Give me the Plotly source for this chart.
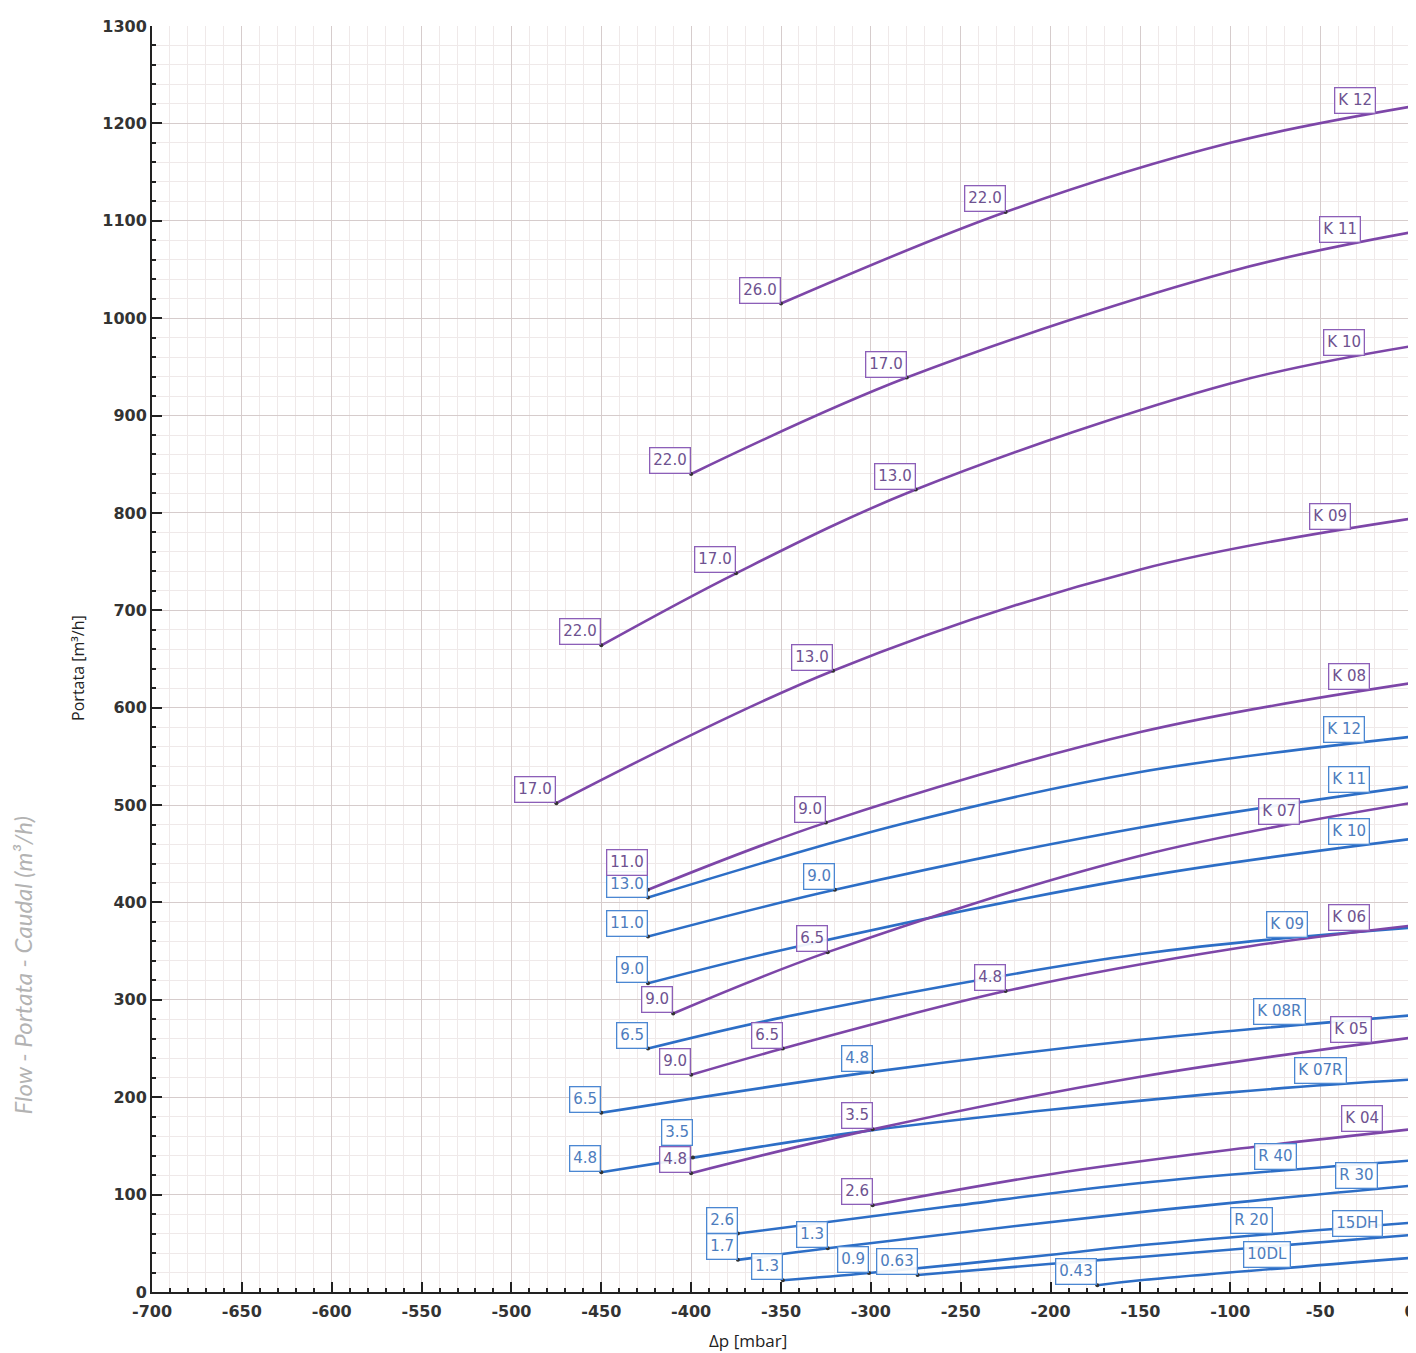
import numpy as np
import plotly.graph_objects as go

# ---------------- DATA ----------------
# Purple series: (Δp [mbar], flow [m3/h], power label)
K12P_DP = [-350, -225, -100, 0]
K12P_Q = [1015, 1109, 1180, 1217]
K12P_KW = ["26.0", "22.0", "", ""]

K11P_DP = [-400, -280, -100, 0]
K11P_Q = [840, 939, 1048, 1088]
K11P_KW = ["22.0", "17.0", "", ""]

K10P_DP = [-450, -375, -275, -100, 0]
K10P_Q = [664, 738, 824, 933, 971]
K10P_KW = ["22.0", "17.0", "13.0", "", ""]

K09P_DP = [-475, -321, -150, 0]
K09P_Q = [502, 638, 742, 794]
K09P_KW = ["17.0", "13.0", "", ""]

K08P_DP = [-424, -325, -150, 0]
K08P_Q = [413, 482, 575, 625]
K08P_KW = ["11.0", "9.0", "", ""]

K07P_DP = [-410, -324, -150, 0]
K07P_Q = [286, 349, 448, 502]
K07P_KW = ["9.0", "6.5", "", ""]

K06P_DP = [-400, -349, -225, -100, 0]
K06P_Q = [223, 250, 309, 352, 376]
K06P_KW = ["9.0", "6.5", "4.8", "", ""]

K05P_DP = [-400, -299, -150, 0]
K05P_Q = [122, 167, 221, 261]
K05P_KW = ["4.8", "3.5", "", ""]

K04P_DP = [-299, -200, -100, 0]
K04P_Q = [89, 121, 146, 167]
K04P_KW = ["2.6", "", "", ""]

# Blue series
K12B_DP = [-424, -284, -150, 0]
K12B_Q = [405, 480, 534, 570]
K12B_KW = ["13.0", "", "", ""]

K11B_DP = [-424, -320, -150, 0]
K11B_Q = [365, 413, 477, 519]
K11B_KW = ["11.0", "9.0", "", ""]

K10B_DP = [-424, -345, -150, 0]
K10B_Q = [317, 353, 426, 465]
K10B_KW = ["9.0", "", "", ""]

K09B_DP = [-424, -349, -150, 0]
K09B_Q = [250, 282, 347, 374]
K09B_KW = ["6.5", "", "", ""]

K08RB_DP = [-450, -299, -150, 0]
K08RB_Q = [184, 226, 259, 284]
K08RB_KW = ["6.5", "4.8", "", ""]

K07RB_DP = [-450, -399, -300, -100, 0]
K07RB_Q = [123, 138, 166, 205, 218]
K07RB_KW = ["4.8", "3.5", "", "", ""]

R40_DP = [-374, -256, -150, 0]
R40_Q = [60, 88, 112, 135]
R40_KW = ["2.6", "", "", ""]

R30_DP = [-374, -324, -150, 0]
R30_Q = [33, 45, 82, 109]
R30_KW = ["1.7", "1.3", "", ""]

R20_DP = [-349, -301, -201, -150, 0]
R20_Q = [12, 19.5, 38, 48, 71]
R20_KW = ["1.3", "0.9", "", "", ""]

D15_DP = [-274, -201, -150, 0]
D15_Q = [17.5, 28.7, 36, 58.5]
D15_KW = ["0.63", "", "", ""]

L10_DP = [-174, -150, 0]
L10_Q = [7, 12, 35]
L10_KW = ["0.43", "", ""]

X_TICKS = [-700, -650, -600, -550, -500, -450, -400, -350, -300, -250, -200, -150, -100, -50, 0]
X_TICK_TEXT = ["-700", "-650", "-600", "-550", "-500", "-450", "-400", "-350", "-300",
               "-250", "-200", "-150", "-100", "-50", "0"]
Y_TICKS = [0, 100, 200, 300, 400, 500, 600, 700, 800, 900, 1000, 1100, 1200, 1300]

# ---------------- STYLE ----------------
PURPLE = "#7d46a8"
BLUE = "#2d6ec6"
PURPLE_TXT = "#6e5290"
BLUE_TXT = "#4d7dbe"
PURPLE_BOX = "#8c5fb8"
BLUE_BOX = "#4b87d2"

# (name, dp, q, kw, colour-group, x of the name label)
CURVES = [
    ("K 12", K12B_DP, K12B_Q, K12B_KW, "b", -25),
    ("K 11", K11B_DP, K11B_Q, K11B_KW, "b", -22),
    ("K 10", K10B_DP, K10B_Q, K10B_KW, "b", -22),
    ("K 09", K09B_DP, K09B_Q, K09B_KW, "b", -57),
    ("K 08R", K08RB_DP, K08RB_Q, K08RB_KW, "b", -58),
    ("K 07R", K07RB_DP, K07RB_Q, K07RB_KW, "b", -35),
    ("R 40", R40_DP, R40_Q, R40_KW, "b", -63),
    ("R 30", R30_DP, R30_Q, R30_KW, "b", -18),
    ("R 20", R20_DP, R20_Q, R20_KW, "b", -76),
    ("15DH", D15_DP, D15_Q, D15_KW, "b", -15),
    ("10DL", L10_DP, L10_Q, L10_KW, "b", -66),
    ("K 12", K12P_DP, K12P_Q, K12P_KW, "p", -19),
    ("K 11", K11P_DP, K11P_Q, K11P_KW, "p", -27),
    ("K 10", K10P_DP, K10P_Q, K10P_KW, "p", -25),
    ("K 09", K09P_DP, K09P_Q, K09P_KW, "p", -33),
    ("K 08", K08P_DP, K08P_Q, K08P_KW, "p", -22),
    ("K 07", K07P_DP, K07P_Q, K07P_KW, "p", -61),
    ("K 06", K06P_DP, K06P_Q, K06P_KW, "p", -22),
    ("K 05", K05P_DP, K05P_Q, K05P_KW, "p", -21),
    ("K 04", K04P_DP, K04P_Q, K04P_KW, "p", -15),
]

# label nudges (pixels) to keep stacked boxes apart, as in the reference
Y_NUDGE = {("p", "K 08", 0): 14, ("b", "K 07R", 1): 12}

# The page adds an 8 px body margin; the figure is sized so that the plot
# area lands where it is in the reference (x 152..1410, y 26..1292).
PAGE_OFFSET = 8

fig = go.Figure()
annotations = []

def box(x, y, text, grp, yshift=0):
    return dict(
        x=x, y=y, xref="x", yref="y", text=text, showarrow=False,
        xanchor="right", yanchor="bottom", yshift=yshift,
        font=dict(family="DejaVu Sans", size=15,
                  color=PURPLE_TXT if grp == "p" else BLUE_TXT),
        bgcolor="rgba(255,255,255,0.92)",
        bordercolor=PURPLE_BOX if grp == "p" else BLUE_BOX,
        borderwidth=1.3, borderpad=3,
    )

for name, dp, q, kw, grp, name_x in CURVES:
    col = PURPLE if grp == "p" else BLUE
    fig.add_trace(go.Scatter(
        x=dp, y=q, mode="lines",
        line=dict(color=col, width=2.6, shape="spline", smoothing=1.0),
        hoverinfo="skip"))
    px = [d for d, k in zip(dp, kw) if k]
    py = [v for v, k in zip(q, kw) if k]
    fig.add_trace(go.Scatter(
        x=px, y=py, mode="markers",
        marker=dict(color="#333333", size=4), hoverinfo="skip"))
    for i, (d, v, k) in enumerate(zip(dp, q, kw)):
        if k:
            annotations.append(box(d, v, k, grp, Y_NUDGE.get((grp, name, i), 0)))
    name_y = float(np.interp(name_x, dp, q))
    annotations.append(box(name_x, name_y, name, grp))

# axis titles and outer caption
annotations.append(dict(
    x=-0.0588, y=0.493, xref="paper", yref="paper", text="Portata [m³/h]",
    textangle=-90, showarrow=False, xanchor="center", yanchor="middle",
    font=dict(family="Open Sans", size=16, color="#222222")))
annotations.append(dict(
    x=0.4738, y=-0.0385, xref="paper", yref="paper", text="Δp [mbar]",
    showarrow=False, xanchor="center", yanchor="middle",
    font=dict(family="Open Sans", size=17, color="#222222")))
annotations.append(dict(
    x=-0.1033, y=0.258, xref="paper", yref="paper",
    text="<i>Flow - Portata - Caudal (m³/h)</i>",
    textangle=-90, showarrow=False, xanchor="center", yanchor="middle",
    font=dict(family="Lato", size=24, color="#b3b3b3")))

tickfont = dict(family="DejaVu Sans", size=16, color="#333333", weight="bold")

fig.update_layout(
    width=1416 - PAGE_OFFSET, height=1353 - PAGE_OFFSET,
    margin=dict(l=152 - PAGE_OFFSET, r=6, t=26 - PAGE_OFFSET, b=61, autoexpand=False),
    paper_bgcolor="white", plot_bgcolor="white",
    showlegend=False,
    annotations=annotations,
    xaxis=dict(
        range=[-700, 0], tickmode="array", tickvals=X_TICKS, ticktext=X_TICK_TEXT,
        ticks="inside", ticklen=10, tickwidth=1.5, tickcolor="#222222",
        showline=True, linecolor="#222222", linewidth=2,
        showgrid=True, gridcolor="#d6cccc", gridwidth=1,
        zeroline=True, zerolinecolor="#b8b0b0", zerolinewidth=1.5,
        minor=dict(tickmode="linear", tick0=0, dtick=10, ticks="inside", ticklen=4,
                   tickcolor="#222222", showgrid=True, gridcolor="#efe9e9"),
        tickfont=tickfont, ticklabelstandoff=4, fixedrange=True, automargin=False,
    ),
    yaxis=dict(
        range=[0, 1300], tickmode="array", tickvals=Y_TICKS,
        ticks="inside", ticklen=10, tickwidth=1.5, tickcolor="#222222",
        showline=True, linecolor="#222222", linewidth=2,
        showgrid=True, gridcolor="#d6cccc", gridwidth=1, zeroline=False,
        minor=dict(tickmode="linear", tick0=0, dtick=20, ticks="inside", ticklen=4,
                   tickcolor="#222222", showgrid=True, gridcolor="#efe9e9"),
        tickfont=tickfont, fixedrange=True, automargin=False,
    ),
)

fig.write_html("out.html")
